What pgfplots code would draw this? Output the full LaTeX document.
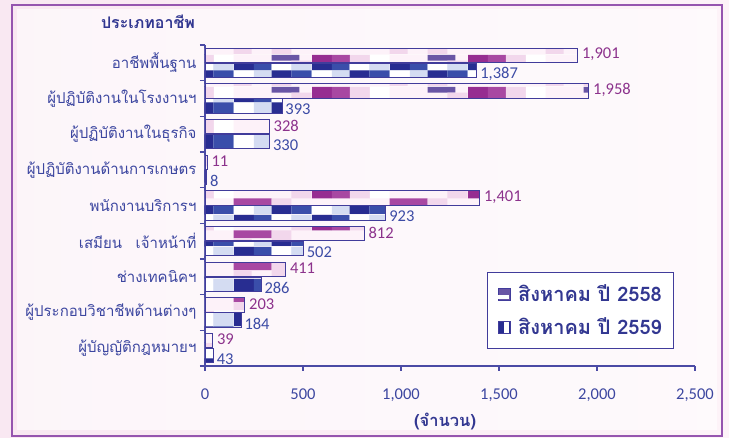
\documentclass[border=0pt]{standalone}
\usepackage{fontspec}
\usepackage{pgfplots}
\pgfplotsset{compat=1.18}
\usetikzlibrary{patterns.meta}
\setmainfont{Carlito}
\newfontfamily\thai[Script=Thai]{Loma}

\definecolor{frameP}{RGB}{150,85,175}
\definecolor{axisB}{RGB}{75,75,165}
\definecolor{txtB}{RGB}{60,70,160}
\definecolor{titleB}{RGB}{50,55,145}
\definecolor{valP}{RGB}{140,50,140}
\definecolor{valB}{RGB}{60,75,165}
\definecolor{barEdge}{RGB}{65,60,155}
\definecolor{bgL}{RGB}{249,232,242}
\definecolor{bgR}{RGB}{253,243,248}
% pattern colours
\definecolor{pbg}{RGB}{253,242,249}
\definecolor{pdark}{RGB}{150,45,145}
\definecolor{pmid}{RGB}{168,72,162}
\definecolor{plight}{RGB}{242,215,236}
\definecolor{pslate}{RGB}{105,85,165}
\definecolor{bbg}{RGB}{236,239,250}
\definecolor{bdark}{RGB}{40,45,145}
\definecolor{bmid}{RGB}{58,78,170}
\definecolor{blight}{RGB}{212,220,242}

\tikzdeclarepattern{
  name=purpblk, type=colored,
  bottom left={(0pt,0pt)}, top right={(156pt,32pt)},
  tile size={(156pt,32pt)},
  code={
    \tikzset{x=2pt,y=2pt}
    \fill[pbg] (0,0) rectangle (78,16);
    \fill[pdark] (0,8) rectangle (10,16);
    \fill[pmid] (10,8) rectangle (19,16);
    \fill[plight] (19,8) rectangle (29,16);
    \fill[white] (29,8) rectangle (39,16);
    \fill[pmid] (39,4) rectangle (58,8);
    \fill[plight] (39,0) rectangle (48,4);
    \fill[plight] (58,0) rectangle (68,8);
    \fill[pslate] (58,13) rectangle (72,16);
    \fill[plight] (68,8) rectangle (78,13);
  }
}
\tikzdeclarepattern{
  name=blueblk, type=colored,
  bottom left={(0pt,0pt)}, top right={(78pt,32pt)},
  tile size={(78pt,32pt)},
  code={
    \tikzset{x=2pt,y=2pt}
    \fill[bbg] (0,0) rectangle (39,16);
    \fill[bdark] (0,8) rectangle (10,16);
    \fill[bmid] (10,8) rectangle (19,16);
    \fill[white] (19,8) rectangle (29,16);
    \fill[blight] (29,8) rectangle (39,16);
    \fill[white] (0,0) rectangle (10,8);
    \fill[blight] (10,0) rectangle (19,8);
    \fill[bdark] (19,0) rectangle (29,8);
    \fill[bmid] (29,0) rectangle (39,8);
  }
}

\begin{document}
\begin{tikzpicture}
\fill[left color=bgL, right color=bgR] (0pt,0pt) rectangle (729pt,438pt);
\useasboundingbox (0pt,0pt) rectangle (729pt,438pt);
\fill[white, opacity=0.6] (17pt,8pt) rectangle (717pt,429pt);
\draw[frameP, line width=1.5pt] (12pt,2pt) rectangle (722pt,433pt);

\begin{axis}[
  at={(205pt,72pt)}, anchor=south west,
  scale only axis, width=490pt, height=321pt,
  xbar, bar width=14.5pt,
  xmin=0, xmax=2500, ymin=-0.5, ymax=8.5, y dir=reverse,
  axis x line*=bottom, axis y line*=left,
  axis line style={draw=axisB, line width=1.2pt, -},
  tick align=outside, major tick length=5pt,
  tick style={draw=axisB, line width=1.2pt},
  xtick={0,500,...,2500},
  ytick={-0.5,0.5,...,8.5},
  y tick label as interval,
  yticklabels={อาชีพพื้นฐาน,ผู้ปฏิบัติงานในโรงงานฯ,ผู้ปฏิบัติงานในธุรกิจ,ผู้ปฏิบัติงานด้านการเกษตร,พนักงานบริการฯ,เสมียน\hspace{0.9em}เจ้าหน้าที่,ช่างเทคนิคฯ,ผู้ประกอบวิชาชีพด้านต่างๆ,ผู้บัญญัติกฎหมายฯ},
  yticklabel style={font=\thai\fontsize{15}{18}\selectfont, text=txtB},
  xticklabel style={font=\fontsize{16.5}{19}\selectfont, text=txtB, yshift=-14pt},
  /pgf/number format/assume math mode=true,
  /pgf/number format/1000 sep={,},
  xlabel={(จำนวน)},
  xlabel style={font=\thai\bfseries\fontsize{16.5}{19}\selectfont, text=titleB, at={(axis description cs:0.49,0)}, anchor=center, yshift=-56pt},
  point meta=x,
  nodes near coords,
  nodes near coords style={anchor=west, font=\fontsize{16.5}{19}\selectfont, inner xsep=3pt, inner ysep=0pt},
  legend style={at={(rel axis cs:0.5755,0.2928)}, anchor=north west,
    draw=barEdge, line width=1.2pt, fill=white,
    font=\thai\bfseries\fontsize{20}{24}\selectfont, text=titleB,
    row sep=11pt, inner xsep=10pt, inner ysep=10pt,
    /tikz/every odd column/.append style={column sep=6pt}},
  legend cell align=left,
]
\addplot[draw=barEdge, line width=0.9pt, pattern=purpblk, bar shift=7.5pt,
  nodes near coords style={text=valP, yshift=1pt, xshift=1pt},
  legend image code/.code={\draw[draw=barEdge, line width=0.6pt, fill=pslate] (0pt,-6pt) rectangle (12pt,6pt); \fill[white] (1pt,-5pt) rectangle (11pt,-1.5pt);}]
  coordinates {(1901,0) (1958,1) (328,2) (11,3) (1401,4) (812,5) (411,6) (203,7) (39,8)};
\addlegendentry{สิงหาคม ปี 2558}
\addplot[draw=barEdge, line width=0.9pt, pattern=blueblk, bar shift=-7.5pt,
  nodes near coords style={text=valB, yshift=-3.5pt},
  legend image code/.code={\draw[draw=barEdge, line width=0.6pt, fill=bdark] (0pt,-6pt) rectangle (12pt,6pt); \fill[white] (7pt,-5pt) rectangle (11pt,5pt);}]
  coordinates {(1387,0) (393,1) (330,2) (8,3) (923,4) (502,5) (286,6) (184,7) (43,8)};
\addlegendentry{สิงหาคม ปี 2559}
\end{axis}
\node[font=\thai\bfseries\fontsize{16}{19}\selectfont, text=titleB] at (148pt,416pt) {ประเภทอาชีพ};
\end{tikzpicture}
\end{document}
